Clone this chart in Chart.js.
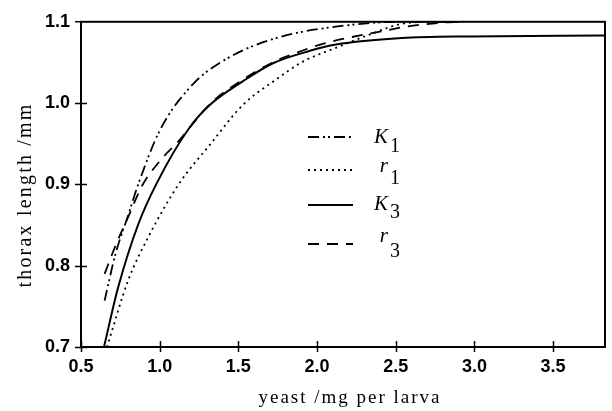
<!DOCTYPE html>
<html>
<head>
<meta charset="utf-8">
<script src="https://cdn.jsdelivr.net/npm/chart.js@4/dist/chart.umd.min.js"></script>
<style>
  html, body { margin: 0; padding: 0; background: #fff; }
  #wrap { width: 612px; height: 411px; }
</style>
</head>
<body>
<div id="wrap"><canvas id="thorax-chart" width="612" height="411"></canvas></div>
<script>
// Tick labels
const xTicks = [0.5, 1.0, 1.5, 2.0, 2.5, 3.0, 3.5];
const yTicks = [0.7, 0.8, 0.9, 1.0, 1.1];

// Series
const k1X = [0.65, 0.72, 0.80, 0.86, 1.00, 1.21, 1.43, 1.74, 2.12, 2.54, 2.90];
const k1Y = [0.757, 0.815, 0.862, 0.898, 0.966, 1.023, 1.055, 1.080, 1.094, 1.100, 1.100];

const r1X = [0.665, 0.80, 0.927, 1.12, 1.32, 1.53, 1.74, 1.91, 2.12, 2.33, 2.55, 2.75, 2.90];
const r1Y = [0.700, 0.782, 0.835, 0.900, 0.949, 0.998, 1.029, 1.051, 1.068, 1.084, 1.098, 1.100, 1.100];

const k3X = [0.646, 0.737, 0.864, 0.98, 1.19, 1.32, 1.53, 1.72, 1.95, 2.12, 2.54, 2.97, 3.83];
const k3Y = [0.700, 0.774, 0.851, 0.901, 0.970, 0.998, 1.027, 1.049, 1.064, 1.072, 1.080, 1.082, 1.083];

const r3X = [0.65, 0.72, 0.80, 0.89, 1.02, 1.11, 1.20, 1.32, 1.53, 1.74, 1.83, 2.02, 2.19, 2.40, 2.60, 2.80, 2.90];
const r3Y = [0.790, 0.825, 0.860, 0.899, 0.933, 0.951, 0.972, 0.999, 1.029, 1.052, 1.059, 1.072, 1.080, 1.088, 1.095, 1.099, 1.100];

// legend names: letter + subscript
const seriesNames = [['K', '1'], ['r', '1'], ['K', '3'], ['r', '3']];

const xTitle = 'yeast /mg per larva';
const yTitle = 'thorax length /mm';

function toPoints(xs, ys) {
    return xs.map((x, i) => ({ x: x, y: ys[i] }));
}

const dashes = [[11, 4, 2, 3, 2, 4], [2, 4], [], [11, 8]];

function makeSet(xs, ys, i) {
    return {
        label: seriesNames[i].join(''),
        data: toPoints(xs, ys),
        showLine: true,
        borderColor: '#000',
        borderWidth: i === 2 ? 2 : 1.8,
        borderDash: dashes[i],
        pointRadius: 0,
        fill: false,
        cubicInterpolationMode: 'monotone'
    };
}

// frame, crossing ticks, legend and axis titles
const decorPlugin = {
    id: 'decor',
    afterDatasetsDraw(chart) {
        const ctx = chart.ctx;
        const a = chart.chartArea;
        const xs = chart.scales.x, ys = chart.scales.y;
        ctx.save();
        ctx.strokeStyle = '#000';
        ctx.lineWidth = 2;
        ctx.setLineDash([]);
        ctx.strokeRect(a.left, a.top, a.right - a.left, a.bottom - a.top);

        ctx.lineWidth = 1.5;
        ctx.beginPath();
        xTicks.forEach(v => {
            const px = Math.round(xs.getPixelForValue(v)) + 0.5;
            ctx.moveTo(px, a.bottom - 6);
            ctx.lineTo(px, a.bottom + 5);
        });
        yTicks.forEach(v => {
            if (v === 1.1) return;
            const py = Math.round(ys.getPixelForValue(v)) + 0.5;
            ctx.moveTo(a.left - 6, py);
            ctx.lineTo(a.left + 6, py);
        });
        ctx.moveTo(a.left - 6, a.top);
        ctx.lineTo(a.left, a.top);
        ctx.stroke();

        // legend
        const rowY = [137, 170, 205, 244];
        const letterY = [143, 172, 210, 242];
        const subY = [152, 184, 218, 257];
        chart.data.datasets.forEach((ds, i) => {
            ctx.beginPath();
            ctx.lineWidth = ds.borderWidth;
            ctx.setLineDash(ds.borderDash);
            ctx.moveTo(308, rowY[i]);
            ctx.lineTo(353, rowY[i]);
            ctx.stroke();
            ctx.setLineDash([]);
            ctx.fillStyle = '#000';
            ctx.textBaseline = 'alphabetic';
            ctx.font = 'italic 21px "Liberation Serif"';
            ctx.textAlign = 'right';
            ctx.fillText(seriesNames[i][0], 388, letterY[i]);
            ctx.font = '20px "Liberation Serif"';
            ctx.textAlign = 'left';
            ctx.fillText(seriesNames[i][1], 390, subY[i]);
        });

        // axis titles
        ctx.font = '19px "Liberation Serif"';
        ctx.letterSpacing = '2px';
        ctx.textAlign = 'center';
        ctx.textBaseline = 'alphabetic';
        ctx.fillText(xTitle, (a.left + a.right) / 2 + 7, 403);
        ctx.font = '20px "Liberation Serif"';
        ctx.letterSpacing = '2.2px';
        ctx.translate(31, 195);
        ctx.rotate(-Math.PI / 2);
        ctx.fillText(yTitle, 0, 0);
        ctx.restore();
    }
};

Chart.defaults.color = '#000';

new Chart(document.getElementById('thorax-chart'), {
    type: 'scatter',
    data: {
        datasets: [
            makeSet(k1X, k1Y, 0),
            makeSet(r1X, r1Y, 1),
            makeSet(k3X, k3Y, 2),
            makeSet(r3X, r3Y, 3)
        ]
    },
    options: {
        responsive: false,
        animation: false,
        layout: { padding: { top: 20, right: 7, left: 0, bottom: 0 } },
        plugins: {
            legend: { display: false },
            tooltip: { enabled: false }
        },
        scales: {
            x: {
                type: 'linear',
                min: 0.5,
                max: 3.83,
                grid: { display: false, drawTicks: false },
                border: { display: false },
                afterBuildTicks: s => { s.ticks = xTicks.map(v => ({ value: v })); },
                afterFit: s => { s.height = 64; },
                ticks: {
                    padding: 9,
                    maxRotation: 0,
                    font: { family: '"Liberation Sans"', size: 18, weight: 'bold' },
                    callback: v => v.toFixed(1)
                }
            },
            y: {
                min: 0.7,
                max: 1.1,
                grid: { display: false, drawTicks: false },
                border: { display: false },
                afterBuildTicks: s => { s.ticks = yTicks.map(v => ({ value: v })); },
                afterFit: s => { s.width = 81; },
                ticks: {
                    padding: 11,
                    font: { family: '"Liberation Sans"', size: 18, weight: 'bold' },
                    callback: v => v.toFixed(1)
                }
            }
        }
    },
    plugins: [decorPlugin]
});
</script>
</body>
</html>
